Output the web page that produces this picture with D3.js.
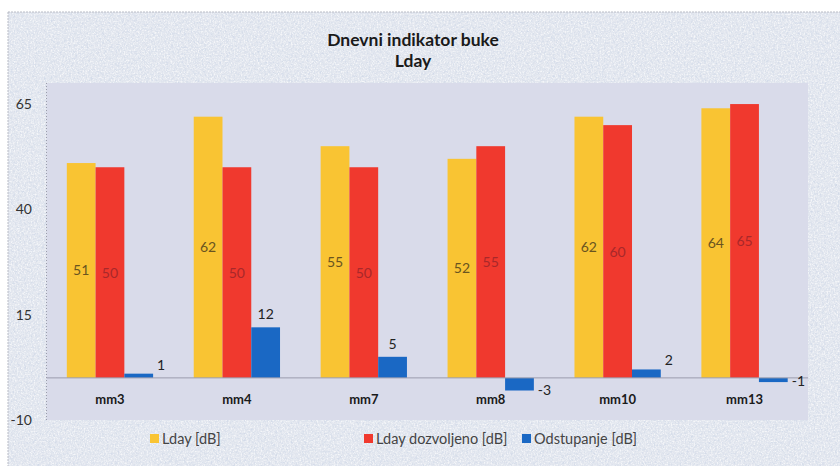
<!DOCTYPE html>
<head>
  <meta charset="utf-8">
  <script src="https://d3js.org/d3.v7.min.js"></script>
  <style>
    body { margin: 0; background: #fff; }
    text { font-family: Lato, "Open Sans", sans-serif; }
  </style>
</head>
<body>
<script>
  var width = 840, height = 466;

  // data
  var categories = ["mm3", "mm4", "mm7", "mm8", "mm10", "mm13"];
  var lday = [51, 62, 55, 52, 62, 64];
  var ldayAllowed = [50, 50, 50, 55, 60, 65];
  var deviation = [1, 12, 5, -3, 2, -1];
  var seriesNames = ["Lday [dB]", "Lday dozvoljeno [dB]", "Odstupanje [dB]"];
  var yTicks = [-10, 15, 40, 65];

  var colors = ["#f9c433", "#f0392e", "#1a68c4"];
  var labelColors = ["#6a5420", "#a8282a", "#222"];

  var svg = d3.select("body").append("svg")
      .attr("width", width)
      .attr("height", height);

  // paper-ish noise texture (scanned look)
  var defs = svg.append("defs");
  var f = defs.append("filter").attr("id", "noise").attr("x", 0).attr("y", 0).attr("width", "100%").attr("height", "100%");
  f.append("feTurbulence").attr("type", "fractalNoise").attr("baseFrequency", 0.45).attr("numOctaves", 3).attr("seed", 5).attr("result", "t");
  f.append("feColorMatrix").attr("in", "t").attr("type", "matrix")
    .attr("values", "0 0 0 0 0.62  0 0 0 0 0.68  0 0 0 0 0.8  0 0 0 -2.4 1.35").attr("result", "c");
  f.append("feComposite").attr("in", "c").attr("in2", "SourceGraphic").attr("operator", "in");

  var f2 = defs.append("filter").attr("id", "noise2").attr("x", 0).attr("y", 0).attr("width", "100%").attr("height", "100%");
  f2.append("feTurbulence").attr("type", "fractalNoise").attr("baseFrequency", 0.7).attr("numOctaves", 2).attr("seed", 9).attr("result", "t");
  f2.append("feColorMatrix").attr("in", "t").attr("type", "matrix")
    .attr("values", "0 0 0 0 1  0 0 0 0 1  0 0 0 0 1  0 0 0 3 -1.4").attr("result", "c");
  f2.append("feComposite").attr("in", "c").attr("in2", "SourceGraphic").attr("operator", "in");

  svg.append("rect").attr("x", 8).attr("y", 12).attr("width", width).attr("height", height)
    .attr("fill", "#e3e7ef").attr("stroke", "#b9bcc6").attr("stroke-dasharray", "2,1");
  svg.append("rect").attr("x", 9).attr("y", 13).attr("width", width).attr("height", height)
    .attr("fill", "#e3e7ef").attr("filter", "url(#noise)").attr("opacity", 0.8);
  svg.append("rect").attr("x", 9).attr("y", 13).attr("width", width).attr("height", height)
    .attr("fill", "#fff").attr("filter", "url(#noise2)").attr("opacity", 0.7);

  var margin = {left: 46.5, right: 32, top: 83, bottom: 46};
  var x0 = d3.scaleBand().domain(categories).range([margin.left, width - margin.right]);
  var groupW = x0.bandwidth() * 0.68;
  var x1 = d3.scaleBand().domain([0, 1, 2]).range([0, groupW]);
  var y = d3.scaleLinear().domain([-10, 70]).range([height - margin.bottom, margin.top]);

  // plot area
  svg.append("rect")
    .attr("x", margin.left).attr("y", margin.top)
    .attr("width", width - margin.right - margin.left)
    .attr("height", y(-10) - margin.top)
    .attr("fill", "#d9dbea");
  svg.append("line")
    .attr("x1", margin.left).attr("x2", margin.left)
    .attr("y1", margin.top).attr("y2", y(-10))
    .attr("stroke", "#9a9cab").attr("stroke-dasharray", "1,2");

  // title
  svg.append("text").attr("x", 413).attr("y", 46).attr("text-anchor", "middle")
    .attr("font-size", 17.5).attr("font-weight", "bold").attr("fill", "#1a1a1a").text("Dnevni indikator buke");
  svg.append("text").attr("x", 413).attr("y", 67).attr("text-anchor", "middle")
    .attr("font-size", 17.5).attr("font-weight", "bold").attr("fill", "#1a1a1a").text("Lday");

  // y tick labels
  svg.selectAll(".ytick").data(yTicks).enter().append("text")
    .attr("class", "ytick")
    .attr("x", 32).attr("y", d => y(d) + 5)
    .attr("text-anchor", "end").attr("font-size", 14).attr("fill", "#333")
    .text(d => d);

  var series = [lday, ldayAllowed, deviation];
  var rows = [];
  series.forEach(function (vals, s) {
    vals.forEach(function (v, i) {
      rows.push({s: s, cat: categories[i], v: v});
    });
  });
  function bx(d) { return x0(d.cat) + (x0.bandwidth() - groupW) / 2 + x1(d.s); }

  svg.selectAll(".bar").data(rows).enter().append("rect")
    .attr("class", "bar")
    .attr("x", bx)
    .attr("width", x1.bandwidth())
    .attr("y", d => y(Math.max(0, d.v)))
    .attr("height", d => Math.abs(y(d.v) - y(0)))
    .attr("fill", d => colors[d.s]);

  // zero line
  svg.append("line")
    .attr("x1", margin.left).attr("x2", width - margin.right)
    .attr("y1", y(0)).attr("y2", y(0))
    .attr("stroke", "#9a9cae").attr("stroke-width", 1);

  // value labels
  svg.selectAll(".lbl").data(rows).enter().append("text")
    .attr("class", "lbl")
    .attr("font-size", 14)
    .attr("fill", d => labelColors[d.s])
    .attr("text-anchor", d => (d.s === 2 && Math.abs(d.v) < 4) ? "start" : "middle")
    .attr("x", function (d) {
      if (d.s === 2 && Math.abs(d.v) < 4) return bx(d) + x1.bandwidth() + 4;
      return bx(d) + x1.bandwidth() / 2;
    })
    .attr("y", function (d) {
      if (d.s < 2) return (y(d.v) + y(0)) / 2 + 5;
      if (d.v < 0) return y(d.v) + 4;
      if (d.v < 4) return y(d.v) - 4;
      return y(d.v) - 8;
    })
    .text(d => d.v);

  // category labels
  svg.selectAll(".cat").data(categories).enter().append("text")
    .attr("class", "cat")
    .attr("x", d => x0(d) + x0.bandwidth() / 2)
    .attr("y", y(0) + 26)
    .attr("text-anchor", "middle").attr("font-size", 13).attr("font-weight", "bold").attr("fill", "#1a1a1a")
    .text(d => d);

  // legend
  var legendX = [150, 364, 522];
  var lg = svg.selectAll(".lg").data(seriesNames).enter().append("g")
    .attr("class", "lg")
    .attr("transform", (d, i) => "translate(" + legendX[i] + ",434)");
  lg.append("rect").attr("width", 9).attr("height", 9).attr("fill", (d, i) => colors[i]);
  lg.append("text").attr("x", 12).attr("y", 10).attr("font-size", 14.5).attr("fill", "#444").text(d => d);
</script>
</body>
